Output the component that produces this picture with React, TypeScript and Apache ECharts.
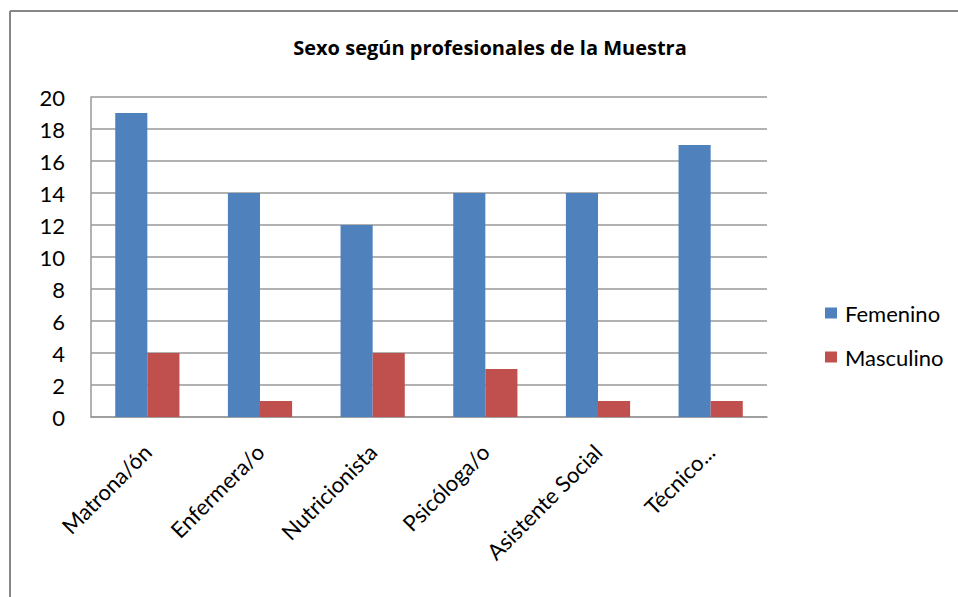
import React, { useEffect, useRef } from "react";
import * as echarts from "echarts";

const categories = ["Matrona/ón", "Enfermera/o", "Nutricionista", "Psicóloga/o", "Asistente Social", "Técnico..."];
const femenino = [19, 14, 12, 14, 14, 17];
const masculino = [4, 1, 4, 3, 1, 1];
const seriesNames = ["Femenino", "Masculino"];
const titleText = "Sexo según profesionales de la Muestra";

const FONT = "Lato, 'Open Sans', sans-serif";

export default function App() {
  const ref = useRef<HTMLDivElement>(null);
  useEffect(() => {
    const chart = echarts.init(ref.current!, null, { renderer: "svg" });
    chart.setOption({
      animation: false,
      backgroundColor: "#fff",
      title: {
        text: titleText,
        left: 485,
        textAlign: "center",
        top: 32,
        textStyle: { fontFamily: "'Open Sans', sans-serif", fontSize: 20, fontWeight: "bold", color: "#000" },
      },
      graphic: [
        { type: "line", shape: { x1: 10, y1: 11, x2: 958, y2: 11 }, style: { stroke: "#868686", lineWidth: 2 } },
        { type: "line", shape: { x1: 10, y1: 11, x2: 10, y2: 597 }, style: { stroke: "#868686", lineWidth: 2 } },
      ],
      legend: {
        orient: "vertical",
        left: 820,
        top: 297,
        itemWidth: 12,
        itemHeight: 11,
        itemGap: 22,
        icon: "rect",
        textStyle: { fontFamily: FONT, fontSize: 22, color: "#000", padding: [0, 0, 0, 3] },
        data: seriesNames,
      },
      grid: { left: 91, right: 191, top: 97, bottom: 180, containLabel: false },
      xAxis: {
        type: "category",
        data: categories,
        axisLine: { show: true, lineStyle: { color: "#999", width: 1.5 } },
        axisTick: { show: false },
        axisLabel: {
          rotate: 45,
          interval: 0,
          margin: 31,
          fontFamily: FONT,
          fontSize: 22,
          color: "#000",
        },
      },
      yAxis: {
        type: "value",
        min: 0,
        max: 20,
        interval: 2,
        axisLine: { show: true, lineStyle: { color: "#999", width: 1.5 } },
        axisTick: { show: false },
        splitLine: { show: true, lineStyle: { color: "#999", width: 1.5 } },
        axisLabel: { fontFamily: FONT, fontSize: 22, color: "#000", margin: 26 },
      },
      series: [
        {
          name: seriesNames[0],
          type: "bar",
          data: femenino,
          itemStyle: { color: "#4F81BD" },
          barGap: "0%",
          barCategoryGap: "43%",
        },
        {
          name: seriesNames[1],
          type: "bar",
          data: masculino,
          itemStyle: { color: "#C0504D" },
          barGap: "0%",
          barCategoryGap: "43%",
        },
      ],
    });
    return () => chart.dispose();
  }, []);
  return <div ref={ref} style={{ width: 958, height: 597, position: "absolute", left: 0, top: 0 }} />;
}
